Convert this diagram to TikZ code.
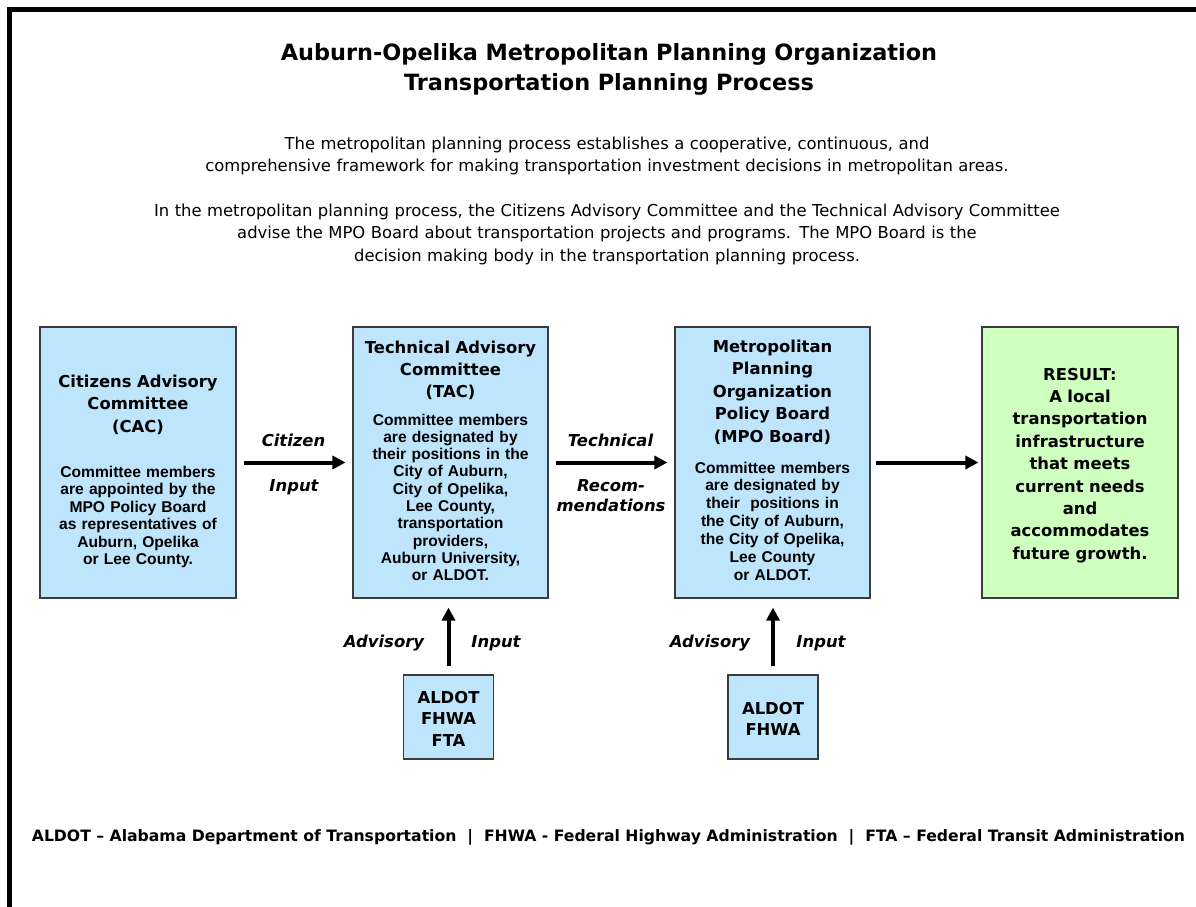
\documentclass[tikz,border=0pt]{standalone}
\usepackage{fontspec}
\setmainfont{DejaVu Sans}
\newfontfamily\arialf{Liberation Sans}
\newfontfamily\descf{DejaVu Sans}
\usetikzlibrary{arrows.meta}
\definecolor{boxblue}{RGB}{190,229,252}
\definecolor{boxgreen}{RGB}{206,255,190}
\definecolor{boxline}{RGB}{60,60,60}
\begin{document}
\begin{tikzpicture}[x=1pt,y=-1pt,
  bx/.style={rectangle, draw=boxline, line width=1.1pt, fill=boxblue, inner sep=0pt},
  hd/.style={text width=190pt, align=center, anchor=base, inner sep=0pt,
    font=\fontsize{16.4}{22.3}\selectfont\bfseries},
  bd/.style={text width=190pt, align=center, anchor=base, inner sep=0pt,
    font=\arialf\fontsize{15.6}{#1}\selectfont\bfseries},
  lab/.style={anchor=base, inner sep=0pt, font=\fontsize{16.4}{20}\selectfont\bfseries\itshape},
  flow/.style={line width=4pt, -{Triangle[length=13pt,width=13pt]}}
]
\useasboundingbox (0,0) rectangle (1196,907);
\fill[white] (0,0) rectangle (1196,907);
\draw[line width=5pt] (9,907) -- (9,10) -- (1196,10);

% title and description
\node[text width=1000pt, align=center, anchor=base, inner sep=0pt,
  font=\fontsize{22.4}{29}\selectfont\bfseries] (title) at (609,61)
  {Auburn-Opelika Metropolitan Planning Organization\\Transportation Planning Process};
\node[text width=1100pt, align=center, anchor=base, inner sep=0pt,
  font=\descf\fontsize{16.4}{22.3}\selectfont] (desc) at (607,149.5)
  {The metropolitan planning process establishes a cooperative, continuous, and\\
   comprehensive framework for making transportation investment decisions in metropolitan areas.\\[22.3pt]
   In the metropolitan planning process, the Citizens Advisory Committee and the Technical Advisory Committee\\
   advise the MPO Board about transportation projects and programs. The MPO Board is the\\
   decision making body in the transportation planning process.};

% boxes
\node[bx, minimum width=196pt, minimum height=271pt] (cac) at (138,462.5) {};
\node[bx, minimum width=195pt, minimum height=271pt] (tac) at (450.5,462.5) {};
\node[bx, minimum width=195pt, minimum height=271pt] (mpo) at (772.5,462.5) {};
\node[bx, fill=boxgreen, minimum width=196pt, minimum height=271pt] (res) at (1080,462.5) {};
\node[bx, minimum width=90pt, minimum height=84pt] (s1) at (448.5,717) {};
\node[bx, minimum width=90pt, minimum height=84pt] (s2) at (773,717) {};

% box texts
\node[hd] (cac-h) at (138,387.5) {Citizens Advisory\\Committee\\(CAC)};
\node[bd=17.5] (cac-b) at (138,477) {Committee members\\are appointed by the\\MPO Policy Board\\as representatives of\\Auburn, Opelika\\or Lee County.};
\node[hd] (tac-h) at (450.5,353) {Technical Advisory\\Committee\\(TAC)};
\node[bd=17.3] (tac-b) at (450.5,425) {Committee members\\are designated by\\their positions in the\\City of Auburn,\\City of Opelika,\\Lee County,\\transportation\\providers,\\Auburn University,\\or ALDOT.};
\node[hd, font=\fontsize{16.4}{22.5}\selectfont\bfseries] (mpo-h) at (772.5,352) {Metropolitan\\Planning\\Organization\\Policy Board\\(MPO Board)};
\node[bd=17.9] (mpo-b) at (772.5,473) {Committee members\\are designated by\\their~ positions in\\the City of Auburn,\\the City of Opelika,\\Lee County\\or ALDOT.};
\node[hd, font=\fontsize{16.4}{22.4}\selectfont\bfseries] (res-t) at (1080,380) {RESULT:\\A local\\transportation\\infrastructure\\that meets\\current needs\\and\\accommodates\\future growth.};
\node[hd, text width=86pt, font=\fontsize{16.4}{21.5}\selectfont\bfseries] (s1-t) at (448.5,703) {ALDOT\\FHWA\\FTA};
\node[hd, text width=86pt, font=\fontsize{16.4}{21.5}\selectfont\bfseries] (s2-t) at (773,714) {ALDOT\\FHWA};

% connectors
\draw[flow, shorten <=7pt, shorten >=7pt] (cac) -- (tac);
\draw[flow, shorten <=7pt, shorten >=7pt] (tac) -- (mpo);
\draw[flow, shorten <=5pt, shorten >=3pt] (mpo) -- (res);
\draw[flow, shorten <=8pt, shorten >=9pt] (s1.north) -- (s1.north |- tac.south);
\draw[flow, shorten <=8pt, shorten >=9pt] (s2.north) -- (s2.north |- mpo.south);

% connector labels
\node[lab] (l1a) at (293.5,446) {Citizen};
\node[lab] (l1b) at (294,491) {Input};
\node[lab] (l2a) at (610.5,446) {Technical};
\node[lab] (l2b) at (611,491) {Recom-};
\node[lab] (l2c) at (611,511) {mendations};
\node[lab] (l3a) at (384,647) {Advisory};
\node[lab] (l3b) at (496,647) {Input};
\node[lab] (l4a) at (710,647) {Advisory};
\node[lab] (l4b) at (821,647) {Input};

% footer
\node[anchor=base, inner sep=0pt, font=\fontsize{15.65}{18}\selectfont\bfseries] (foot) at (608.5,841)
  {ALDOT -- Alabama Department of Transportation~~|~~FHWA - Federal Highway Administration~~|~~FTA -- Federal Transit Administration};
\end{tikzpicture}
\end{document}
